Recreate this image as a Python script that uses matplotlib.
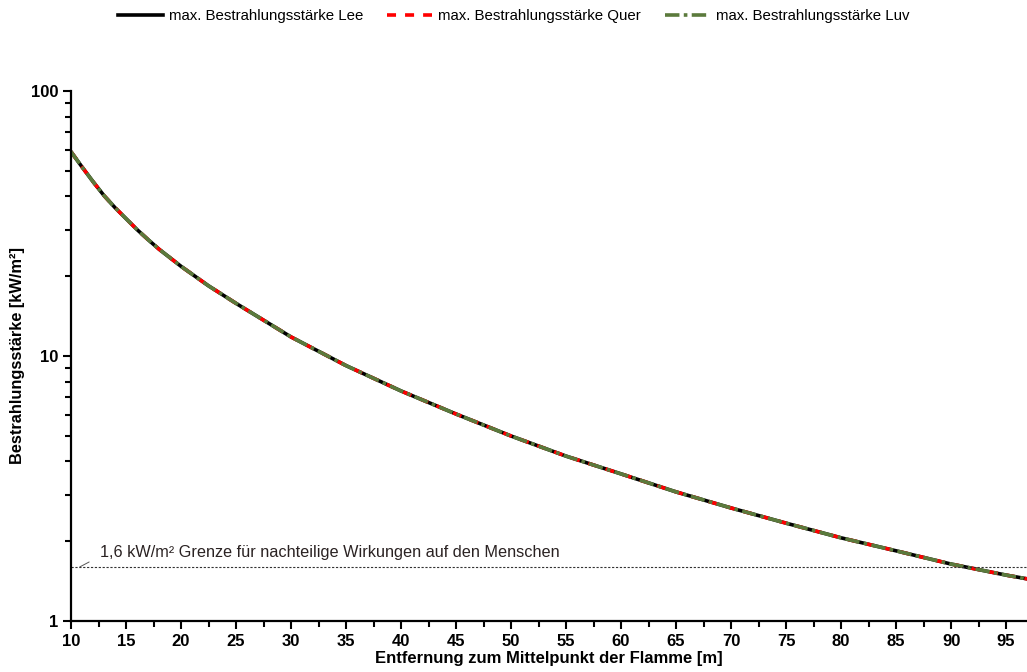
import matplotlib.pyplot as plt
from matplotlib.ticker import FixedLocator, NullFormatter, LogLocator

plt.rcParams['font.family'] = ['Liberation Sans', 'DejaVu Sans']

# Entfernung [m] und max. Bestrahlungsstaerke [kW/m²]
distance = [10, 11, 12, 13, 14, 15, 16, 17, 18, 20, 22.5, 25, 30, 35, 40, 45, 50, 55, 60, 65, 70, 75, 80, 85, 90, 95, 97]
lee = [59.0, 51.7, 45.5, 40.3, 36.3, 33.0, 30.0, 27.5, 25.3, 21.8, 18.4, 15.8, 11.8, 9.2, 7.38, 6.04, 4.99, 4.19, 3.59, 3.07, 2.67, 2.34, 2.06, 1.84, 1.64, 1.49, 1.44]
quer = [59.0, 51.7, 45.5, 40.3, 36.3, 33.0, 30.0, 27.5, 25.3, 21.8, 18.4, 15.8, 11.8, 9.2, 7.38, 6.04, 4.99, 4.19, 3.59, 3.07, 2.67, 2.34, 2.06, 1.84, 1.64, 1.49, 1.44]
luv = [59.0, 51.7, 45.5, 40.3, 36.3, 33.0, 30.0, 27.5, 25.3, 21.8, 18.4, 15.8, 11.8, 9.2, 7.38, 6.04, 4.99, 4.19, 3.59, 3.07, 2.67, 2.34, 2.06, 1.84, 1.64, 1.49, 1.44]
limit = 1.6
x_ticks = [10, 15, 20, 25, 30, 35, 40, 45, 50, 55, 60, 65, 70, 75, 80, 85, 90, 95]

fig = plt.figure(figsize=(10.27, 6.72), dpi=100)
ax = fig.add_axes([71 / 1027, 51 / 672, 956 / 1027, 530 / 672])

ax.plot(distance, lee, color='black', lw=2.6, label='max. Bestrahlungsstärke Lee')
ax.plot(distance, quer, color='#ff0000', lw=2.6, dashes=(2.5, 2.5), label='max. Bestrahlungsstärke Quer')
ax.plot(distance, luv, color='#5b7a3c', lw=2.6, dashes=(4, 1.2, 1, 1.2), label='max. Bestrahlungsstärke Luv')

ax.axhline(limit, color='#333333', lw=0.8, ls=(0, (2, 1.5)))
# kurzer Hinweisstrich und Beschriftung der Grenzlinie
ax.annotate('', xy=(10.8, limit), xytext=(11.65, 1.67),
            arrowprops=dict(arrowstyle='-', color='#555555', lw=0.7, shrinkA=0, shrinkB=0))
ax.text(12.6, 1.70, '1,6 kW/m² Grenze für nachteilige Wirkungen auf den Menschen',
        fontsize=11.7, color='#2a2222', va='bottom', ha='left')

ax.set_yscale('log')
ax.set_ylim(1, 100)
ax.set_xlim(10, 96.9)
ax.xaxis.set_major_locator(FixedLocator(x_ticks))
ax.xaxis.set_minor_locator(FixedLocator([t + 2.5 for t in x_ticks]))
ax.yaxis.set_major_locator(FixedLocator([1, 10, 100]))
ax.yaxis.set_minor_locator(LogLocator(base=10, subs=range(2, 10)))
ax.yaxis.set_minor_formatter(NullFormatter())
ax.set_yticklabels(['1', '10', '100'])

for lbl in ax.get_xticklabels() + ax.get_yticklabels():
    lbl.set_fontweight('bold')
    lbl.set_fontsize(12)

ax.tick_params(axis='both', which='major', direction='out', length=6, width=1.5, pad=3)
ax.tick_params(axis='both', which='minor', direction='out', length=4.5, width=1.5)

ax.spines['top'].set_visible(False)
ax.spines['right'].set_visible(False)
ax.spines['left'].set_linewidth(1.6)
ax.spines['bottom'].set_linewidth(1.6)

ax.set_xlabel('Entfernung zum Mittelpunkt der Flamme [m]', fontsize=12, fontweight='bold', labelpad=2)
ax.set_ylabel('Bestrahlungsstärke [kW/m²]', fontsize=11.8, fontweight='bold', labelpad=4)

fig.legend(loc='upper center', bbox_to_anchor=(0.5, 1.006), ncol=3, frameon=False,
           fontsize=10.8, handlelength=3, handletextpad=0.4, columnspacing=1.6)

fig.savefig('out.png', dpi=100)
